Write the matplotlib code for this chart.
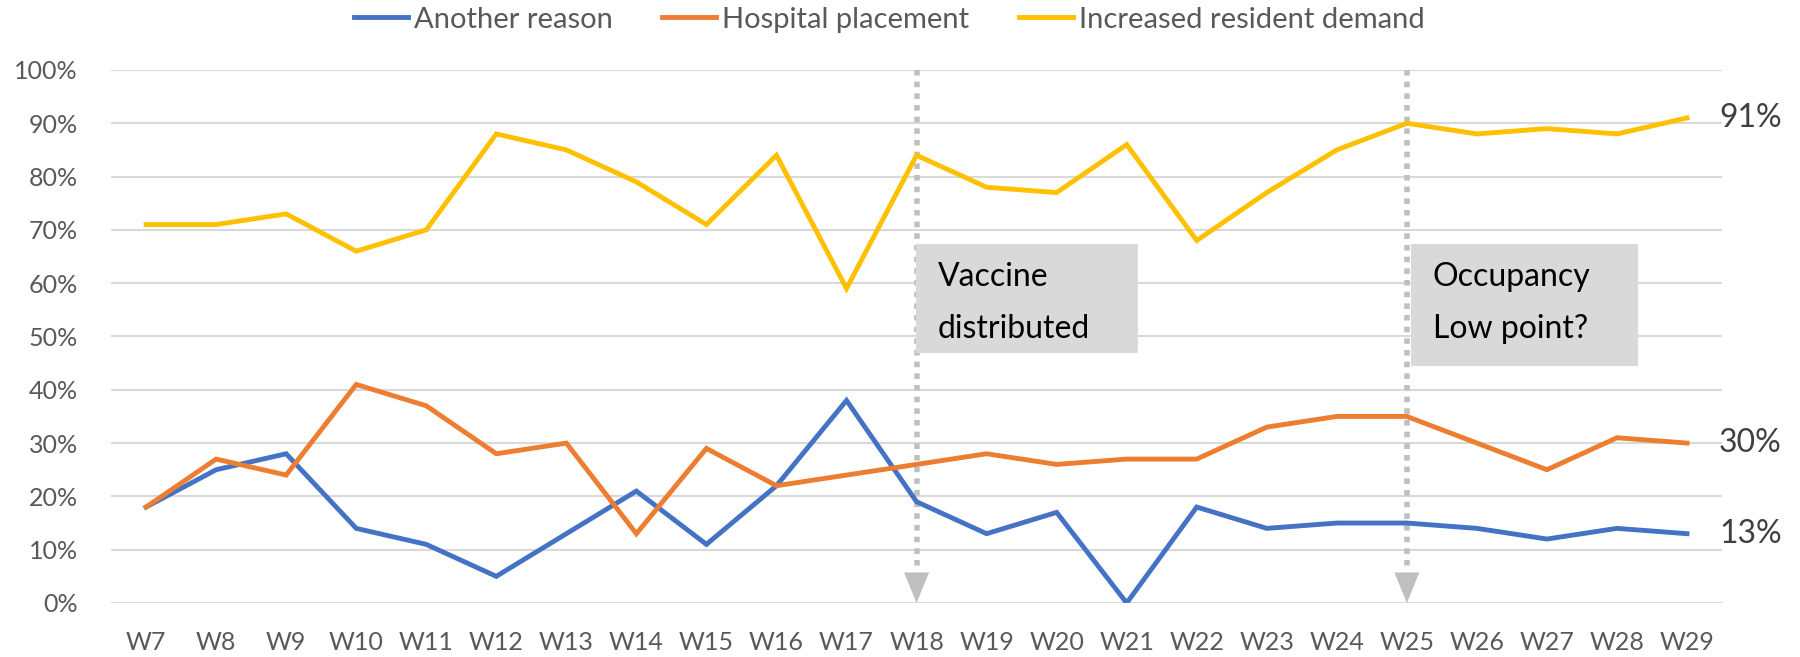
import matplotlib
matplotlib.use("Agg")
import matplotlib.pyplot as plt
from matplotlib.patches import Rectangle
from matplotlib.ticker import PercentFormatter

# ── Data ─────────────────────────────────────────────────────────────────────
weeks = [f"W{i}" for i in range(7, 30)]
another_reason = [18, 25, 28, 14, 11, 5, 13, 21, 11, 22, 38, 19, 13, 17, 0,
                  18, 14, 15, 15, 14, 12, 14, 13]
hospital_placement = [18, 27, 24, 41, 37, 28, 30, 13, 29, 22, 24, 26, 28, 26,
                      27, 27, 33, 35, 35, 30, 25, 31, 30]
increased_demand = [71, 71, 73, 66, 70, 88, 85, 79, 71, 84, 59, 84, 78, 77, 86,
                    68, 77, 85, 90, 88, 89, 88, 91]
series_names = ["Another reason", "Hospital placement", "Increased resident demand"]
event_weeks = ["W18", "W25"]
event_labels = ["Vaccine\ndistributed", "Occupancy\nLow point?"]

COLORS = ["#4472C4", "#ED7D31", "#FFC000"]
GRID = "#D9D9D9"
TICK = "#595959"
ARROW = "#BFBFBF"
plt.rcParams["font.family"] = ["Lato", "DejaVu Sans"]

fig = plt.figure(figsize=(18, 6.57), dpi=100)
ax = fig.add_axes([0.0617, 0.0822, 0.895, 0.8113])

x = list(range(len(weeks)))
for vals, name, col in zip([another_reason, hospital_placement, increased_demand],
                           series_names, COLORS):
    ax.plot(x, vals, color=col, lw=3.5, label=name, solid_joinstyle="miter", zorder=3)
    ax.annotate(f"{vals[-1]}%", xy=(x[-1], vals[-1]), xytext=(23, 0),
                textcoords="offset points", va="center", ha="left",
                fontsize=23, color="#404040", annotation_clip=False)

# ── Event markers: dotted drop lines with arrow heads ───────────────────────
for wk in event_weeks:
    xi = weeks.index(wk)
    ax.plot([xi, xi], [100, 6], color=ARROW, lw=4, ls=(0, (1, 1.1)),
            solid_capstyle="butt", dash_capstyle="butt", zorder=2)
    ax.annotate("", xy=(xi, 0), xytext=(xi, 6),
                arrowprops=dict(arrowstyle="-|>,head_length=1.1,head_width=0.45",
                                color=ARROW, lw=0, shrinkA=0, shrinkB=0,
                                mutation_scale=20), zorder=2)

# ── Text boxes ───────────────────────────────────────────────────────────────
boxes = [(916, 244, 1138, 353), (1411, 244, 1638, 366)]
W, H = 1800, 657
for (x0, y0, x1, y1), txt in zip(boxes, event_labels):
    fig.add_artist(Rectangle((x0 / W, 1 - y1 / H), (x1 - x0) / W, (y1 - y0) / H,
                             transform=fig.transFigure, facecolor="#D9D9D9",
                             edgecolor="none", zorder=5))
    first, second = txt.split("\n")
    fig.text((x0 + 22) / W, 1 - (y0 + 33) / H, first, fontsize=23, color="black",
             va="center", ha="left", zorder=6)
    fig.text((x0 + 22) / W, 1 - (y0 + 85) / H, second, fontsize=23, color="black",
             va="center", ha="left", zorder=6)

# ── Axes styling ─────────────────────────────────────────────────────────────
ax.set_xlim(-0.5, len(weeks) - 0.5)
ax.set_ylim(0, 100)
ax.set_yticks(range(0, 101, 10))
ax.yaxis.set_major_formatter(PercentFormatter(decimals=0))
ax.set_xticks(x)
ax.set_xticklabels(weeks)
ax.grid(axis="y", color=GRID, lw=1.5, zorder=0)
ax.set_axisbelow(True)
for s in ax.spines.values():
    s.set_visible(False)
ax.tick_params(axis="both", length=0, labelsize=18, labelcolor=TICK)
ax.tick_params(axis="y", pad=24)
ax.tick_params(axis="x", pad=20)

leg = fig.legend(loc="upper center", bbox_to_anchor=(0.494, 1.012), ncol=3,
                 frameon=False, fontsize=21, handlelength=1.85, handletextpad=0.2,
                 columnspacing=1.7, borderaxespad=0.1)
for t in leg.get_texts():
    t.set_color(TICK)

fig.savefig("out.png", dpi=100)
